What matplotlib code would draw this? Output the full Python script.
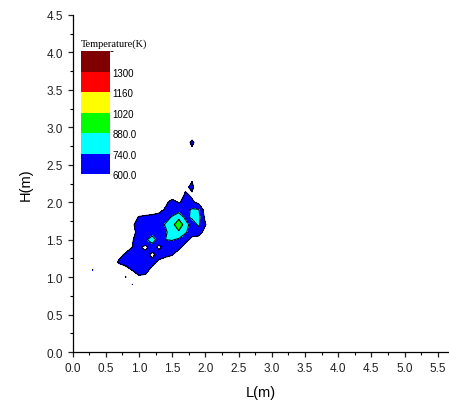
import numpy as np
import matplotlib
matplotlib.use("Agg")
import matplotlib.pyplot as plt
from matplotlib.colors import ListedColormap, BoundaryNorm
from matplotlib.ticker import MultipleLocator, FormatStrFormatter

plt.rcParams['font.family'] = 'Liberation Sans'

# temperature field (K), grid step 0.1 m
L_vals = np.round(np.arange(0.3, 2.15, 0.1), 2)   # 0.3 .. 2.1
H_vals = np.round(np.arange(2.9, 0.85, -0.1), 2)  # 2.9 .. 0.9 (top row first)

temp_rows = [
    # 0.3 0.4 0.5 0.6 0.7 0.8 0.9 1.0 1.1 1.2 1.3 1.4 1.5 1.6 1.7 1.8 1.9 2.0 2.1
    [500, 500, 500, 500, 500, 500, 500, 500, 500, 500, 500, 500, 500, 500, 500, 500, 500, 500, 500],  # 2.9
    [500, 500, 500, 500, 500, 500, 500, 500, 500, 500, 500, 500, 500, 500, 500, 640, 500, 500, 500],  # 2.8
    [500, 500, 500, 500, 500, 500, 500, 500, 500, 500, 500, 500, 500, 500, 500, 570, 500, 500, 500],  # 2.7
    [500, 500, 500, 500, 500, 500, 500, 500, 500, 500, 500, 500, 500, 500, 500, 500, 500, 500, 500],  # 2.6
    [500, 500, 500, 500, 500, 500, 500, 500, 500, 500, 500, 500, 500, 500, 500, 500, 500, 500, 500],  # 2.5
    [500, 500, 500, 500, 500, 500, 500, 500, 500, 500, 500, 500, 500, 500, 500, 500, 500, 500, 500],  # 2.4
    [500, 500, 500, 500, 500, 500, 500, 500, 500, 500, 500, 500, 500, 500, 500, 590, 500, 500, 500],  # 2.3
    [500, 500, 500, 500, 500, 500, 500, 500, 500, 500, 500, 500, 500, 500, 570, 630, 500, 500, 500],  # 2.2
    [500, 500, 500, 500, 500, 500, 500, 500, 500, 500, 500, 500, 500, 500, 620, 580, 500, 500, 500],  # 2.1
    [500, 500, 500, 500, 500, 500, 500, 500, 500, 500, 500, 560, 660, 590, 630, 620, 560, 500, 500],  # 2.0
    [500, 500, 500, 500, 500, 500, 500, 500, 500, 500, 540, 620, 680, 680, 690, 760, 750, 520, 500],  # 1.9
    [500, 500, 500, 500, 500, 500, 540, 610, 630, 650, 670, 700, 750, 830, 710, 760, 790, 560, 500],  # 1.8
    [500, 500, 500, 500, 500, 500, 580, 650, 660, 670, 690, 750, 820, 1000, 800, 680, 760, 610, 500],  # 1.7
    [500, 500, 500, 500, 500, 500, 560, 640, 650, 680, 680, 720, 800, 850, 760, 660, 680, 530, 500],  # 1.6
    [500, 500, 500, 500, 500, 520, 590, 650, 720, 800, 690, 740, 750, 720, 650, 560, 520, 500, 500],  # 1.5
    [500, 500, 500, 500, 500, 530, 600, 620, 560, 680, 565, 650, 660, 640, 540, 500, 500, 500, 500],  # 1.4
    [500, 500, 500, 500, 560, 620, 660, 670, 650, 560, 660, 640, 610, 520, 500, 500, 500, 500, 500],  # 1.3
    [500, 500, 500, 520, 620, 660, 670, 670, 660, 640, 570, 520, 500, 500, 500, 500, 500, 500, 500],  # 1.2
    [606, 500, 500, 500, 500, 540, 610, 660, 650, 560, 500, 500, 500, 500, 500, 500, 500, 500, 500],  # 1.1
    [500, 500, 500, 500, 500, 605, 500, 580, 570, 500, 500, 500, 500, 500, 500, 500, 500, 500, 500],  # 1.0
    [500, 500, 500, 500, 500, 500, 603, 500, 500, 500, 500, 500, 500, 500, 500, 500, 500, 500, 500],  # 0.9
]

levels = [600, 740, 880, 1020, 1160, 1300, 1440]
level_labels = ['600.0', '740.0', '880.0', '1020', '1160', '1300']
level_colors = ['#0000ff', '#00ffff', '#00ff00', '#ffff00', '#ff0000', '#800000']

T = np.array(temp_rows, dtype=float)
LL, HH = np.meshgrid(L_vals, H_vals)

fig = plt.figure(figsize=(4.49, 4.10), dpi=100)
ax = fig.add_axes([0.1615, 0.139, 0.8385, 0.822])

cmap = ListedColormap(level_colors)
norm = BoundaryNorm(levels, cmap.N)
cf = ax.contourf(LL, HH, T, levels=levels, cmap=cmap, norm=norm)
ax.contour(LL, HH, T, levels=levels[:-1], colors='k', linewidths=0.8)

ax.set_xlim(0, 5.67)
ax.set_ylim(0, 4.5)
ax.spines['top'].set_visible(False)
ax.spines['right'].set_visible(False)
for s in ['left', 'bottom']:
    ax.spines[s].set_linewidth(0.9)

ax.xaxis.set_major_locator(MultipleLocator(0.5))
ax.xaxis.set_minor_locator(MultipleLocator(0.25))
ax.yaxis.set_major_locator(MultipleLocator(0.5))
ax.yaxis.set_minor_locator(MultipleLocator(0.25))
ax.xaxis.set_major_formatter(FormatStrFormatter('%.1f'))
ax.yaxis.set_major_formatter(FormatStrFormatter('%.1f'))
ax.tick_params(which='major', direction='out', length=3.5, width=0.9, labelsize=8.5, colors='#222222')
ax.tick_params(which='minor', direction='out', length=2, width=0.8)
ax.set_xticks(np.arange(0, 5.51, 0.5))

ax.set_xlabel('L(m)', fontsize=10.5, labelpad=8)
ax.set_ylabel('H(m)', fontsize=10.5, labelpad=10)

# legend box built as a colorbar
cax = fig.add_axes([0.180, 0.573, 0.0646, 0.300])
cb = fig.colorbar(cf, cax=cax, ticks=levels[:-1])
cb.outline.set_visible(False)
cb.ax.set_yticklabels(level_labels)
cb.ax.tick_params(length=0, labelsize=7, pad=2)
fig.text(0.180, 0.893, 'Temperature(K)', fontsize=7.5, family='Liberation Serif',
         ha='left', va='center')

fig.savefig('out.png', dpi=100)
